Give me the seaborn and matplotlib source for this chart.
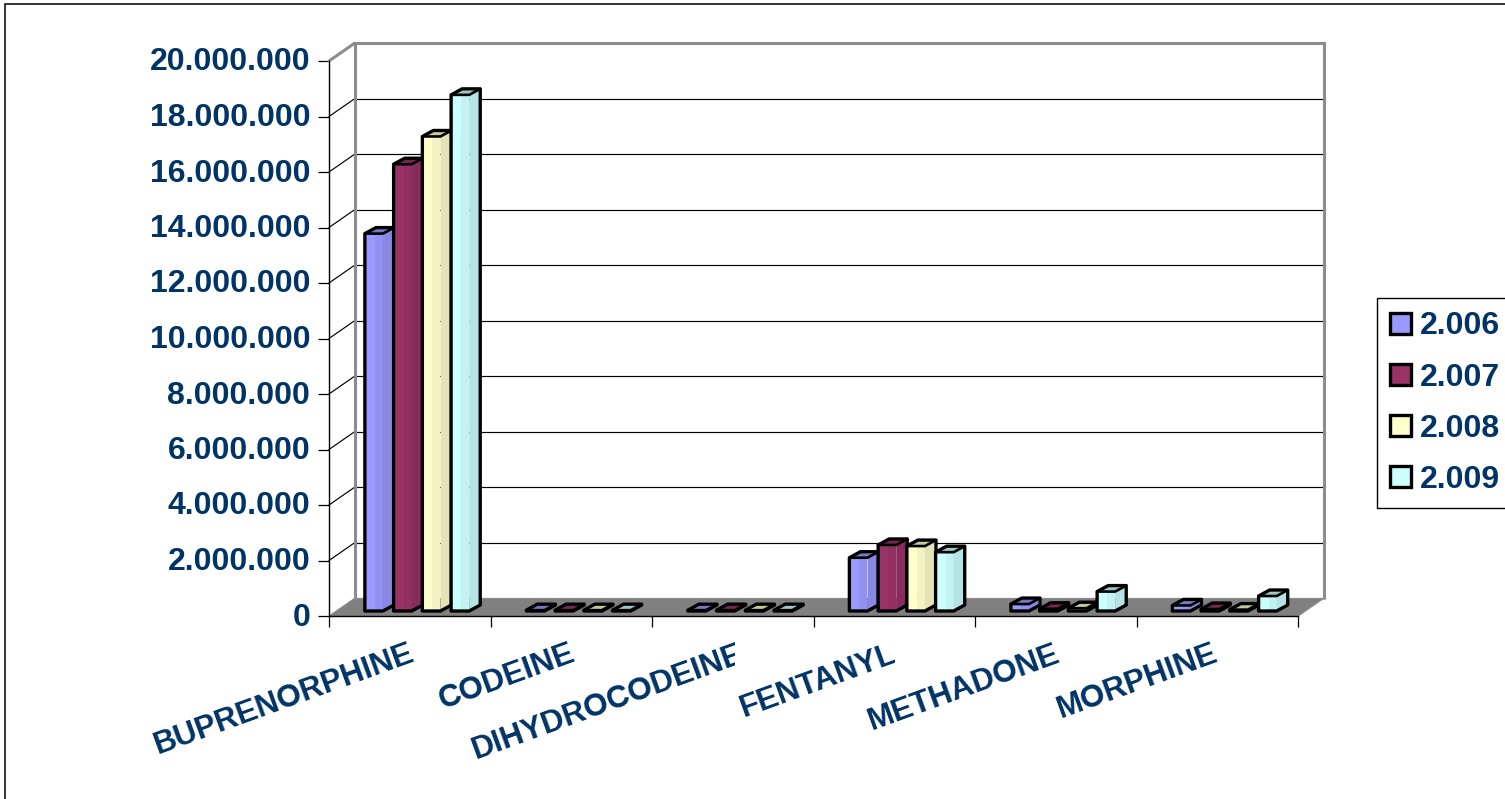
import numpy as np
import pandas as pd
import matplotlib
matplotlib.use("Agg")
import matplotlib.pyplot as plt
import seaborn as sns
from matplotlib.patches import Polygon, Rectangle
from matplotlib.transforms import ScaledTranslation, IdentityTransform, Bbox
from matplotlib.colors import to_rgb

# Substances and yearly amounts
drugs = ["BUPRENORPHINE", "CODEINE", "DIHYDROCODEINE", "FENTANYL", "METHADONE", "MORPHINE"]
years = ["2.006", "2.007", "2.008", "2.009"]
y2006 = [13600000, 30000, 30000, 1920000, 250000, 200000]
y2007 = [16100000, 30000, 30000, 2380000, 80000, 70000]
y2008 = [17100000, 30000, 30000, 2340000, 100000, 50000]
y2009 = [18600000, 30000, 30000, 2120000, 700000, 540000]
series_colors = ["#9999FF", "#993366", "#FFFFCC", "#CCFFFF"]
value_ticks = [0, 2000000, 4000000, 6000000, 8000000, 10000000,
               12000000, 14000000, 16000000, 18000000, 20000000]

W, H, DPI = 1505, 799, 100
INK = "#003366"
FS = 23

sns.set_theme(style="white")
plt.rcParams["font.family"] = ["Liberation Sans", "DejaVu Sans"]
plt.rcParams["font.weight"] = "bold"

table = pd.DataFrame({
    "drug": np.repeat(drugs, len(years)),
    "year": years * len(drugs),
    "amount": np.ravel(np.column_stack([y2006, y2007, y2008, y2009])),
})

fig = plt.figure(figsize=(W / DPI, H / DPI), dpi=DPI, facecolor="white")
ax = fig.add_axes([329 / W, (H - 616) / H, 969 / W, 555 / H])
ax.patch.set_alpha(0)


def shift(dx, dy):
    """Pixel offset that moves the data plane in depth."""
    return ScaledTranslation(dx / DPI, dy / DPI, fig.dpi_scale_trans)


sns.barplot(data=table, x="drug", y="amount", hue="year", order=drugs, hue_order=years,
            palette=dict(zip(years, series_colors)), saturation=1, width=0.712, gap=0.37,
            edgecolor="black", linewidth=2.4, ax=ax, zorder=5)

ax.set_xlim(-0.5, 5.5)
ax.set_ylim(0, 20000000)

# Floor and back wall of the box
back = ax.transData + shift(25.5, 17.7)
corners = ax.transData.transform([(-0.5, 0), (5.5, 0)])
back_corners = back.transform([(5.5, 0), (-0.5, 0)])
ax.add_patch(Polygon(np.vstack([corners, back_corners]), closed=True, transform=IdentityTransform(),
                     facecolor="#808080", edgecolor="#808080", linewidth=0.6, zorder=1, clip_on=False))

for v in value_ticks[1:-1]:
    ax.plot([-0.5, 5.5], [v, v], color="black", lw=0.85, transform=back, zorder=1.5, clip_on=False)
for v in value_ticks[1:-1]:
    p0 = ax.transData.transform((-0.5, v))
    p1 = back.transform((-0.5, v))
    ax.plot([p0[0], p1[0]], [p0[1], p1[1]], color="black", lw=0.85,
            transform=IdentityTransform(), zorder=1.5, clip_on=False)

top = value_ticks[-1]
ax.plot([-0.5, 5.5, 5.5], [top, top, 0], color="#8c8c8c", lw=2.2, transform=back, zorder=2,
        clip_on=False, solid_joinstyle="miter")
ax.plot([-0.5, -0.5], [0, top], color="#8c8c8c", lw=2.2, transform=back, zorder=2, clip_on=False)
p0, p1 = ax.transData.transform((-0.5, top)), back.transform((-0.5, top))
ax.plot([p0[0], p1[0]], [p0[1], p1[1]], color="#8c8c8c", lw=2.2,
        transform=IdentityTransform(), zorder=2, clip_on=False)
p0, p1 = ax.transData.transform((5.5, 0)), back.transform((5.5, 0))
ax.plot([p0[0], p1[0]], [p0[1], p1[1]], color="#8c8c8c", lw=1.0,
        transform=IdentityTransform(), zorder=2, clip_on=False)

# Turn each flat bar into a prism: shaded front band, side, lid and outline
bar_plane = ax.transData + shift(7.3, 5)
SIDE_X, SIDE_Y = 11.0, 6.0


def scaled(color, k):
    return tuple(c * k for c in to_rgb(color))


order = []
for container, color in zip(ax.containers, series_colors):
    for bar in container:
        order.append((bar.get_x(), bar, color))
order.sort(key=lambda item: item[0])

z = 5.0
for _, bar, color in order:
    x0, w, h = bar.get_x(), bar.get_width(), bar.get_height()
    (xl, yb), (xr, yt) = bar_plane.transform([(x0, 0), (x0 + w, h)])
    xm = (xl + xr) / 2 + 1
    bar.set_transform(bar_plane)
    bar.set_clip_on(False)
    bar.set_edgecolor("none")
    bar.set_zorder(z)
    band = Polygon([(xm, yb), (xr, yb), (xr, yt), (xm, yt)], facecolor=scaled(color, 0.95), edgecolor="none")
    side = Polygon([(xr, yb), (xr + SIDE_X, yb + SIDE_Y), (xr + SIDE_X, yt + SIDE_Y), (xr, yt)],
                   facecolor=scaled(color, 0.89), edgecolor="none")
    lid = Polygon([(xl, yt), (xr, yt), (xr + SIDE_X, yt + SIDE_Y), (xl + SIDE_X, yt + SIDE_Y)],
                  facecolor=scaled(color, 0.78), edgecolor="none")
    outline = Polygon([(xl, yb), (xr, yb), (xr + SIDE_X, yb + SIDE_Y), (xr + SIDE_X, yt + SIDE_Y),
                       (xl + SIDE_X, yt + SIDE_Y), (xl, yt)],
                      facecolor="none", edgecolor="black", linewidth=2.4, joinstyle="round")
    ax.plot([xl, xr, xr + SIDE_X], [yt, yt, yt + SIDE_Y], color="black", lw=1.9,
            transform=IdentityTransform(), clip_on=False, solid_joinstyle="round",
            zorder=z + 0.4)
    for i, part in enumerate((band, side, lid, outline)):
        part.set_transform(IdentityTransform())
        part.set_clip_on(False)
        part.set_zorder(z + 0.1 + i * 0.05)
        ax.add_patch(part)
    z += 1

# Axes, ticks and labels
sns.despine(ax=ax, top=True, right=True)
for name in ("left", "bottom"):
    ax.spines[name].set_color("black")
    ax.spines[name].set_linewidth(1.0)
    ax.spines[name].set_zorder(3)

ax.set_xlabel("")
ax.set_ylabel("")
ax.set_yticks(value_ticks)
ax.set_yticklabels([f"{v:,}".replace(",", ".") for v in value_ticks])
ax.set_xticks(range(len(drugs)))
ax.set_xticklabels(drugs)
ax.set_xticks(np.arange(-0.5, 6, 1), minor=True)
ax.tick_params(axis="y", which="major", left=True, length=8, width=0.9, color="black",
               pad=5.5, labelsize=FS, labelcolor=INK)
ax.tick_params(axis="x", which="major", bottom=False, length=0, pad=16.5, labelsize=22.5, labelcolor=INK)
ax.tick_params(axis="x", which="minor", bottom=True, length=8, width=0.9, color="black")

for label in ax.get_yticklabels():
    label.set_transform(label.get_transform() + shift(0, 2))

clip_right = {"DIHYDROCODEINE": 735, "FENTANYL": 895}
nudge = {"BUPRENORPHINE": -2, "CODEINE": -2, "DIHYDROCODEINE": 5, "FENTANYL": -4,
         "METHADONE": -2, "MORPHINE": -6}
for label in ax.get_xticklabels():
    text = label.get_text()
    label.set_rotation(20)
    label.set_ha("right")
    label.set_va("top")
    label.set_rotation_mode("anchor")
    label.set_transform(label.get_transform() + shift(nudge[text], 0))
    if text in clip_right:
        label.set_clip_box(Bbox([[0, 0], [clip_right[text], H]]))
        label.set_clip_on(True)

# Legend box running off the right edge of the chart area
sns.move_legend(ax, loc="upper left", bbox_to_anchor=(1377 / W, 1 - 298 / H),
                bbox_transform=fig.transFigure, title=None, frameon=True, fancybox=False,
                edgecolor="black", framealpha=1, fontsize=FS, labelcolor=INK, borderaxespad=0,
                handlelength=0.63, handleheight=0.63, handletextpad=0.28, labelspacing=0.66,
                borderpad=0.42)
legend = ax.get_legend()
legend.get_frame().set_linewidth(1.0)
legend.set_zorder(100)

# Chart-area border
fig.add_artist(Rectangle((5 / W, -10 / H), (W + 10) / W, (H + 10 - 4) / H, transform=fig.transFigure,
                         fill=False, edgecolor="black", linewidth=1.1))

fig.savefig("out.png", dpi=DPI)
